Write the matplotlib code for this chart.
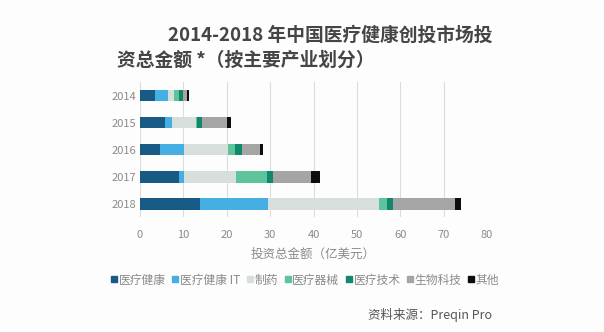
import numpy as np
import matplotlib.pyplot as plt
from matplotlib.lines import Line2D

plt.rcParams['font.family'] = ['Noto Sans CJK SC', 'DejaVu Sans']

years = ['2014', '2015', '2016', '2017', '2018']
categories = ['医疗健康', '医疗健康 IT', '制药', '医疗器械', '医疗技术', '生物科技', '其他']
colors = ['#175b84', '#45aee2', '#d8dedc', '#5cc39b', '#12876c', '#a5a5a5', '#0d0d0d']

# investment (US$ bn) per sector, one list per category, order = years
healthcare = [3.5, 5.8, 4.5, 8.9, 13.8]
healthcare_it = [2.9, 1.5, 5.6, 1.3, 15.6]
pharma = [1.4, 5.6, 10.3, 11.9, 25.7]
devices = [1.3, 0.3, 1.5, 7.1, 1.9]
medtech = [0.9, 1.2, 1.7, 1.4, 1.3]
biotech = [0.9, 5.6, 4.1, 8.8, 14.3]
other = [0.5, 1.0, 0.6, 2.2, 1.5]
series = [healthcare, healthcare_it, pharma, devices, medtech, biotech, other]

fig = plt.figure(figsize=(6.04, 3.32), dpi=100)
fig.patch.set_facecolor('#fdfdfd')
ax = fig.add_axes([140/604, 115/332, 347/604, 135/332])
ax.set_facecolor('#fdfdfd')

y = np.arange(len(years))
left = np.zeros(len(years))
for vals, c, name in zip(series, colors, categories):
    ax.barh(y, vals, left=left, height=0.41, color=c, label=name, zorder=3)
    left += np.array(vals)

ax.set_xlim(0, 80)
ax.set_ylim(4.48, -0.51)
ax.set_xticks(np.arange(0, 81, 10))
ax.set_yticks(y)
ax.set_yticklabels(years)
ax.grid(axis='x', color='#dcdcdc', linewidth=0.8, zorder=0)
for s in ax.spines.values():
    s.set_visible(False)
ax.tick_params(length=0, colors='#8a8a8a', labelsize=8)
ax.tick_params(axis='x', pad=9)
ax.tick_params(axis='y', pad=3)
ax.set_xlabel('投资总金额（亿美元）', fontsize=9, color='#8a8a8a', labelpad=6)

fig.text(168/604, 1 - 35/332, '2014-2018 年中国医疗健康创投市场投', fontsize=13.5,
         fontweight='bold', color='#454545', va='center', ha='left')
fig.text(117/604, 1 - 60/332, '资总金额 *（按主要产业划分）', fontsize=13.5,
         fontweight='bold', color='#454545', va='center', ha='left')

handles = [Line2D([], [], marker='s', linestyle='', color=c, markersize=4) for c in colors]
fig.legend(handles, categories, loc='center', bbox_to_anchor=(305/604, 1 - 280/332),
           ncol=7, frameon=False, fontsize=8.5, handlelength=0.6, handletextpad=0.1,
           columnspacing=0.5, labelcolor='#8a8a8a')

fig.text(492/604, 1 - 315/332, '资料来源：Preqin Pro', fontsize=9, style='italic',
         color='#555555', ha='right', va='center')

fig.savefig('out.png', dpi=100, facecolor=fig.get_facecolor())
